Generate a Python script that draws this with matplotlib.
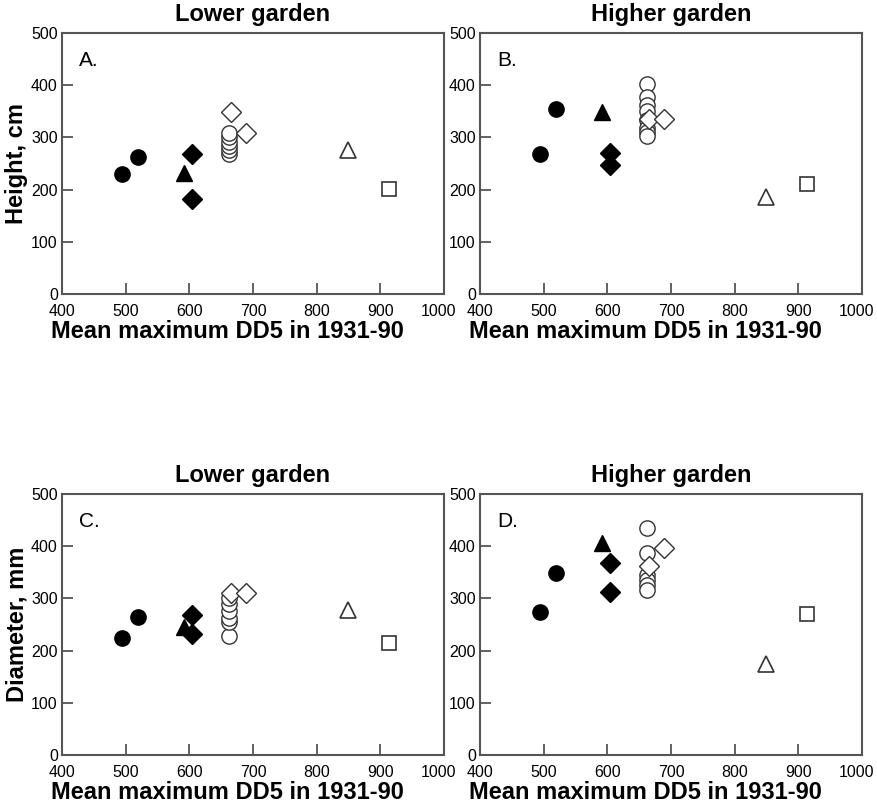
import matplotlib
matplotlib.use("Agg")
import matplotlib.pyplot as plt
from matplotlib.transforms import ScaledTranslation

plt.rcParams['font.family'] = ['Liberation Sans', 'DejaVu Sans']

# x = mean maximum DD5 (1931-90) of each provenance group
x_fcircle = [494, 520]
x_ftri = [592]
x_fdiam = [604, 604]
x_odiam = [665, 689]
x_otri = [849]
x_osquare = [913]
x_ocircle = 663

# panel A: height, lower garden
a_fcircle = [230, 262]
a_ftri = [232]
a_fdiam = [268, 182]
a_ocircle = [268, 276, 284, 292, 300, 308]
a_odiam = [349, 308]
a_otri = [276]
a_osquare = [202]

# panel B: height, higher garden
b_fcircle = [268, 354]
b_ftri = [348]
b_fdiam = [271, 247]
b_ocircle = [403, 378, 363, 350, 333, 318, 310, 302]
b_odiam = [335, 335]
b_otri = [186]
b_osquare = [210]

# panel C: diameter, lower garden
c_fcircle = [225, 265]
c_ftri = [245]
c_fdiam = [268, 231]
c_ocircle = [228, 255, 263, 275, 290, 300]
c_odiam = [311, 310]
c_otri = [278]
c_osquare = [215]

# panel D: diameter, higher garden
d_fcircle = [274, 348]
d_ftri = [407]
d_fdiam = [367, 312]
d_ocircle = [434, 387, 345, 335, 325, 317]
d_odiam = [362, 397]
d_otri = [174]
d_osquare = [271]

panels = [
    ("A.", "Lower garden", "Height, cm",
     a_fcircle, a_ftri, a_fdiam, a_ocircle, a_odiam, a_otri, a_osquare),
    ("B.", "Higher garden", None,
     b_fcircle, b_ftri, b_fdiam, b_ocircle, b_odiam, b_otri, b_osquare),
    ("C.", "Lower garden", "Diameter, mm",
     c_fcircle, c_ftri, c_fdiam, c_ocircle, c_odiam, c_otri, c_osquare),
    ("D.", "Higher garden", None,
     d_fcircle, d_ftri, d_fdiam, d_ocircle, d_odiam, d_otri, d_osquare),
]

positions = [
    [0.0707, 0.6361, 0.4356, 0.3230],
    [0.5473, 0.6361, 0.4356, 0.3230],
    [0.0707, 0.0656, 0.4356, 0.3230],
    [0.5473, 0.0656, 0.4356, 0.3230],
]

spine_col = "#555555"
edge_col = "#333333"

fig = plt.figure(figsize=(8.77, 8.08), dpi=100)

for pos, (letter, title, ylab, fc, ft, fd, oc, od, ot, osq) in zip(positions, panels):
    ax = fig.add_axes(pos)
    ax.plot(x_fcircle, fc, "o", ms=11, color="black", ls="none")
    ax.plot(x_ftri, ft, "^", ms=11, color="black", ls="none")
    ax.plot(x_fdiam, fd, "D", ms=10, color="black", ls="none")
    ax.plot([x_ocircle] * len(oc), oc, "o", ms=11, mfc="white", mec=edge_col,
            mew=1.0, ls="none")
    ax.plot(x_odiam, od, "D", ms=10, mfc="white", mec=edge_col, mew=1.0, ls="none")
    ax.plot(x_otri, ot, "^", ms=11, mfc="white", mec=edge_col, mew=1.2, ls="none")
    ax.plot(x_osquare, osq, "s", ms=9.5, mfc="white", mec=edge_col, mew=1.2, ls="none")

    ax.set_xlim(400, 1000)
    ax.set_ylim(0, 500)
    ax.set_xticks(range(400, 1001, 100))
    ax.set_yticks(range(0, 501, 100))
    ax.tick_params(direction="in", length=8, width=1.3, color=spine_col,
                   labelsize=11.5)
    ax.tick_params(axis="x", pad=7)
    ax.tick_params(axis="y", pad=3)
    for s in ax.spines.values():
        s.set_color(spine_col)
        s.set_linewidth(1.5)

    # the "1000" label sits a little left of its tick in the original
    last = ax.get_xticklabels()[-1]
    last.set_transform(last.get_transform()
                       + ScaledTranslation(-0.06, 0, fig.dpi_scale_trans))

    ax.set_title(title, fontsize=17, fontweight="bold", pad=9)
    ax.set_xlabel("Mean maximum DD5 in 1931-90", fontsize=17, fontweight="bold",
                  labelpad=1)
    ax.xaxis.label.set_x(0.432)
    if ylab:
        ax.set_ylabel(ylab, fontsize=17, fontweight="bold", labelpad=2)
    ax.text(0.045, 0.895, letter, transform=ax.transAxes, fontsize=15,
            ha="left", va="center")

fig.savefig("out.png", dpi=100)
